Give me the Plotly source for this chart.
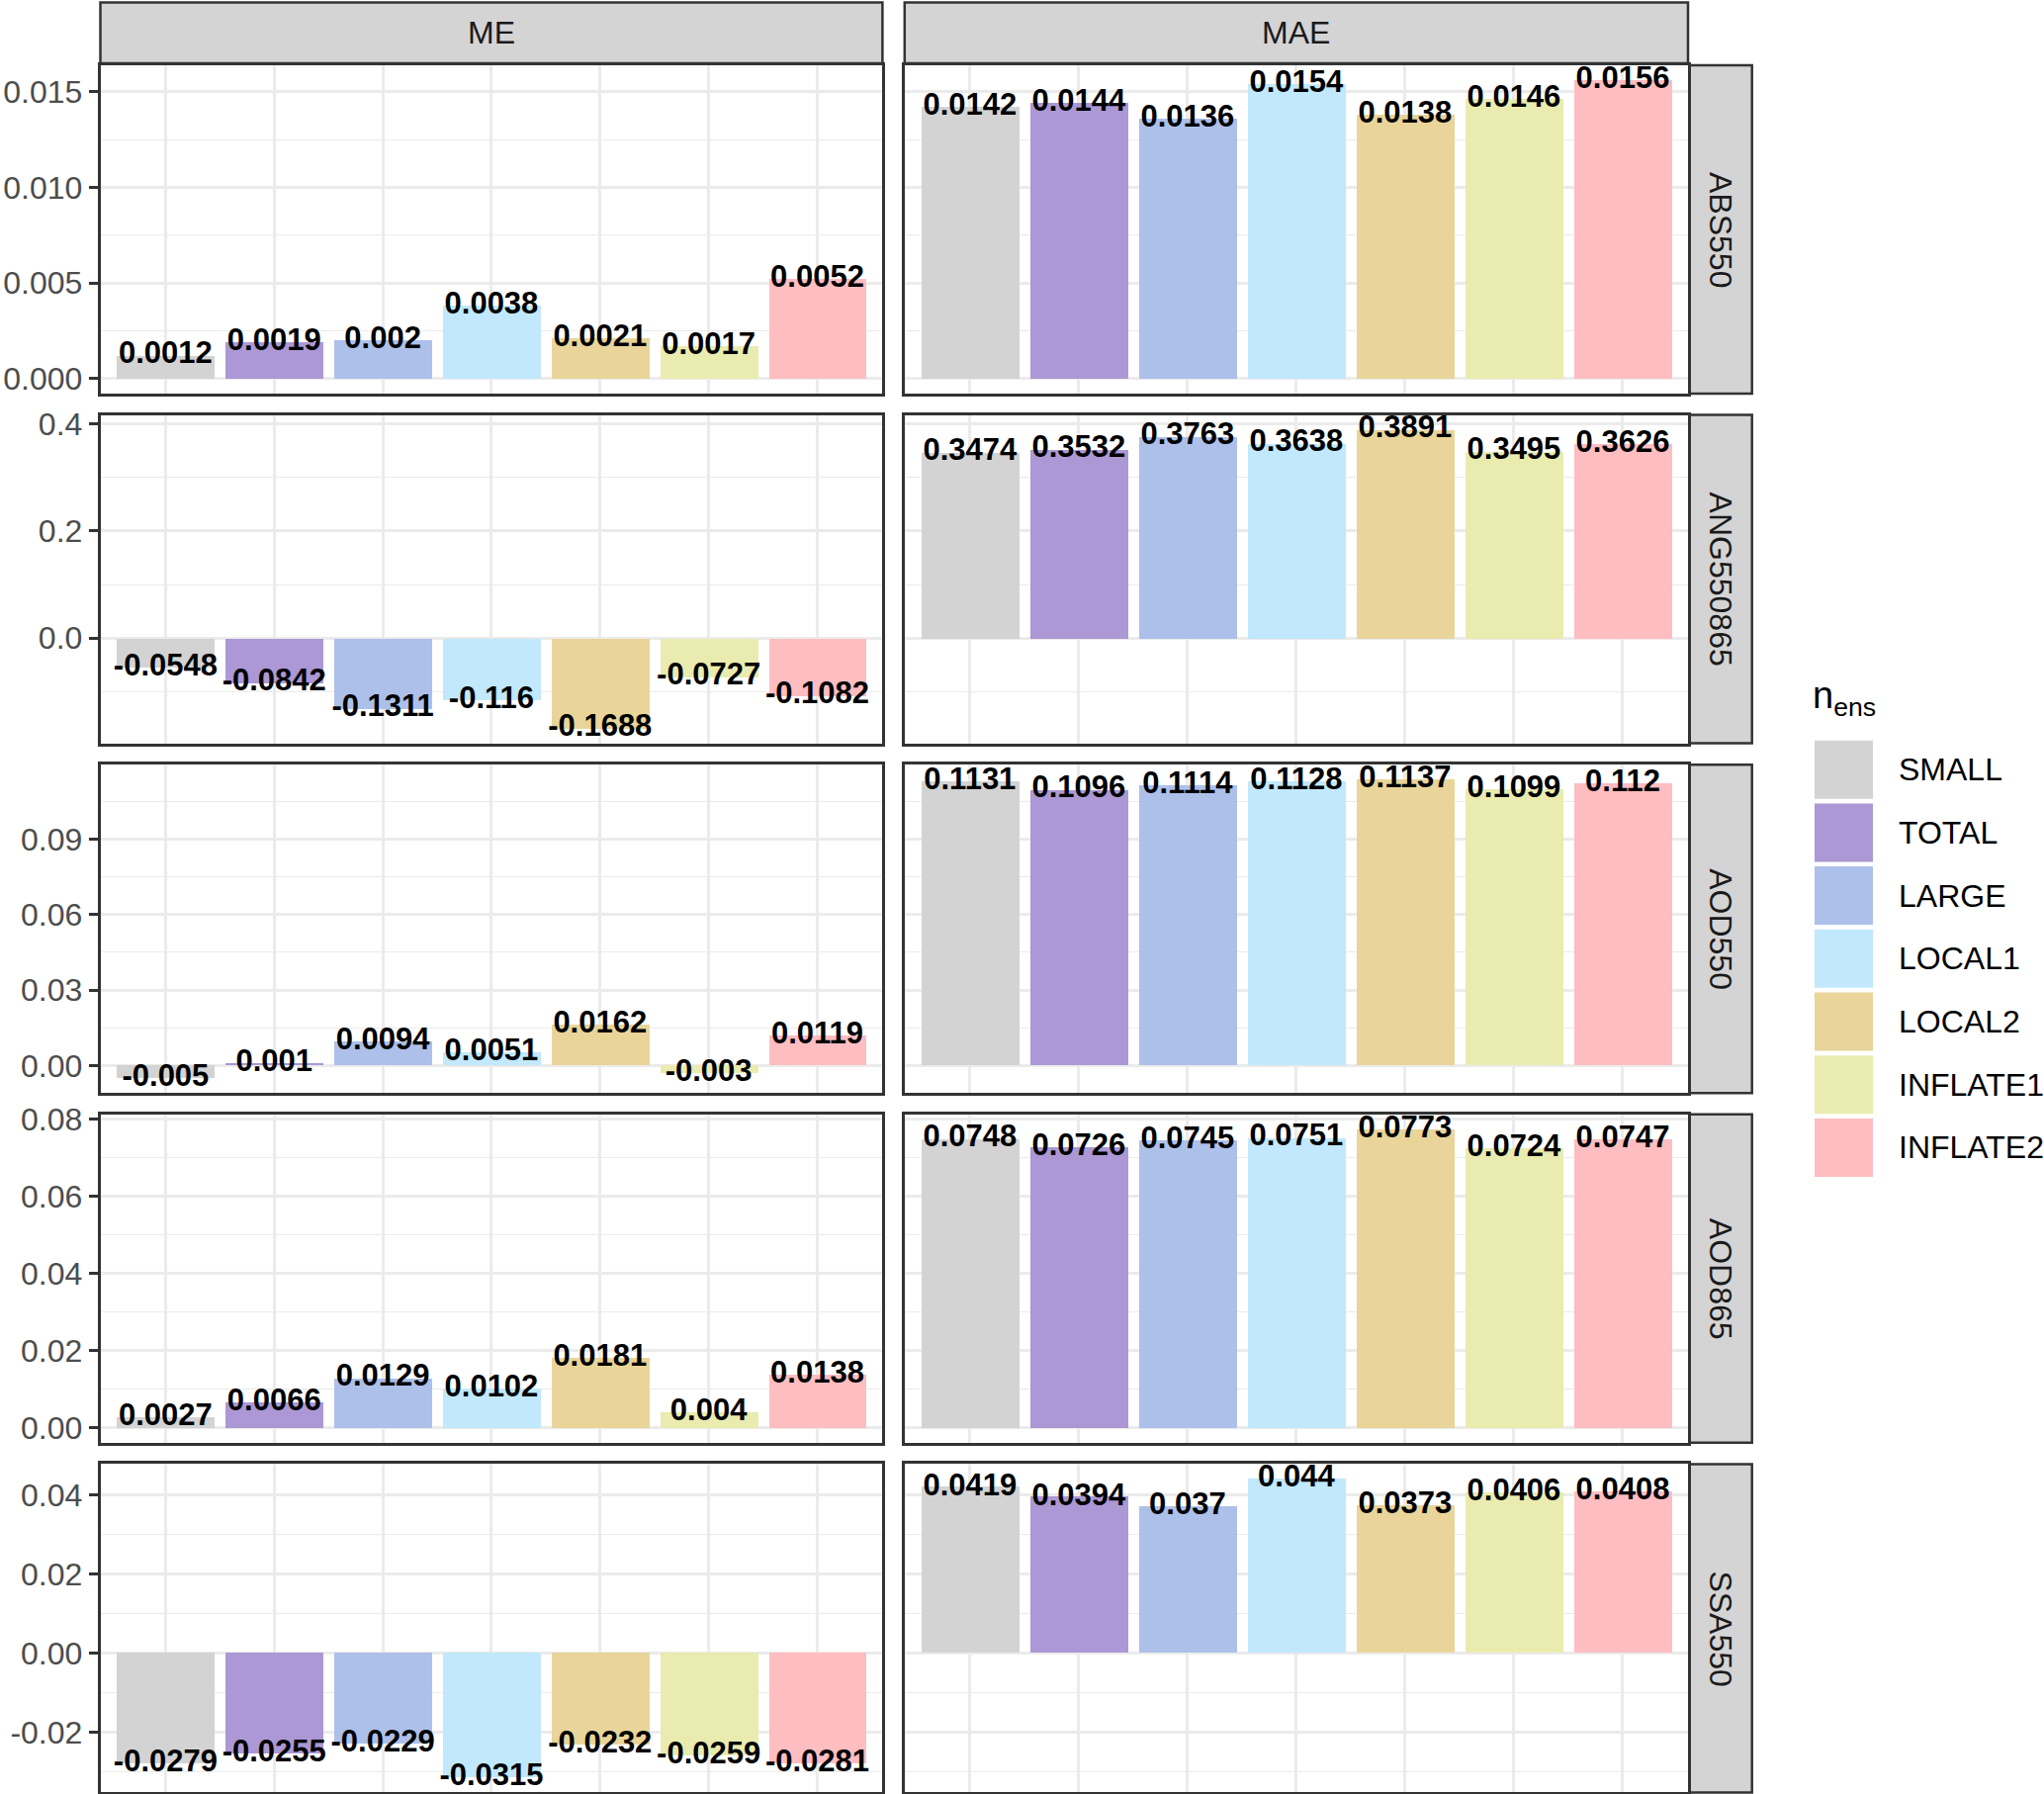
"""
Gráfica de barras en rejilla (ME / MAE por variable y tipo de ensamble).
"""

import plotly.graph_objects as go

ANCHO, ALTO = 2067, 1814

categorias = ["SMALL", "TOTAL", "LARGE", "LOCAL1", "LOCAL2", "INFLATE1", "INFLATE2"]
colores = ["#D3D3D3", "#AB98D4", "#ADC0EA", "#C1E8FC", "#E9D59A", "#EAEBAF", "#FEBDC0"]

variables = ["ABS550", "ANG550865", "AOD550", "AOD865", "SSA550"]
metricas = ["ME", "MAE"]

me_abs550 = [0.0012, 0.0019, 0.002, 0.0038, 0.0021, 0.0017, 0.0052]
mae_abs550 = [0.0142, 0.0144, 0.0136, 0.0154, 0.0138, 0.0146, 0.0156]

me_ang550865 = [-0.0548, -0.0842, -0.1311, -0.116, -0.1688, -0.0727, -0.1082]
mae_ang550865 = [0.3474, 0.3532, 0.3763, 0.3638, 0.3891, 0.3495, 0.3626]

me_aod550 = [-0.005, 0.001, 0.0094, 0.0051, 0.0162, -0.003, 0.0119]
mae_aod550 = [0.1131, 0.1096, 0.1114, 0.1128, 0.1137, 0.1099, 0.112]

me_aod865 = [0.0027, 0.0066, 0.0129, 0.0102, 0.0181, 0.004, 0.0138]
mae_aod865 = [0.0748, 0.0726, 0.0745, 0.0751, 0.0773, 0.0724, 0.0747]

me_ssa550 = [-0.0279, -0.0255, -0.0229, -0.0315, -0.0232, -0.0259, -0.0281]
mae_ssa550 = [0.0419, 0.0394, 0.037, 0.044, 0.0373, 0.0406, 0.0408]

# Marcas del eje vertical por fila.
marcas_abs550 = [0.0, 0.005, 0.010, 0.015]
textos_abs550 = ["0.000", "0.005", "0.010", "0.015"]
marcas_ang550865 = [0.0, 0.2, 0.4]
textos_ang550865 = ["0.0", "0.2", "0.4"]
marcas_aod550 = [0.0, 0.03, 0.06, 0.09]
textos_aod550 = ["0.00", "0.03", "0.06", "0.09"]
marcas_aod865 = [0.0, 0.02, 0.04, 0.06, 0.08]
textos_aod865 = ["0.00", "0.02", "0.04", "0.06", "0.08"]
marcas_ssa550 = [-0.02, 0.0, 0.02, 0.04]
textos_ssa550 = ["-0.02", "0.00", "0.02", "0.04"]

datos = [
    (me_abs550, mae_abs550, marcas_abs550, textos_abs550),
    (me_ang550865, mae_ang550865, marcas_ang550865, textos_ang550865),
    (me_aod550, mae_aod550, marcas_aod550, textos_aod550),
    (me_aod865, mae_aod865, marcas_aod865, textos_aod865),
    (me_ssa550, mae_ssa550, marcas_ssa550, textos_ssa550),
]

FUENTE = "Liberation Sans"
BORDE = "#333333"
REJILLA = "#EBEBEB"
TIRA = "#D4D4D4"

# Posiciones de los paneles en pixeles.
cols_px = [(101.5, 892.4), (914.8, 1707.0)]
fila_top, fila_alto, fila_paso = 66.0, 332.0, 353.6
tira_sup = (2.6, 64.0)
tira_der = (1708.3, 1771.7)


def px_x(v):
    return v / ANCHO


def px_y(v):
    return 1 - v / ALTO


fig = go.Figure()
shapes = []
annotations = []

for r, (me, mae, marcas, textos) in enumerate(datos):
    todos = me + mae + [0]
    lo, hi = min(todos), max(todos)
    extra = (hi - lo) * 0.05
    rango = [lo - extra, hi + extra]

    paso = marcas[1] - marcas[0]
    menores = [m + paso / 2 for m in [marcas[0] - paso] + marcas]

    top = fila_top + r * fila_paso
    bottom = top + fila_alto
    dom_y = [px_y(bottom), px_y(top)]

    for c, valores in enumerate([me, mae]):
        k = r * 2 + c + 1
        sufijo = "" if k == 1 else str(k)

        fig.add_trace(
            go.Bar(
                x=categorias,
                y=valores,
                width=0.9,
                marker_color=colores,
                marker_line_width=0,
                showlegend=False,
                hoverinfo="x+y",
                xaxis=f"x{sufijo}",
                yaxis=f"y{sufijo}",
            )
        )

        fig.add_trace(
            go.Scatter(
                x=categorias,
                y=valores,
                mode="text",
                text=[str(v) for v in valores],
                textposition="middle center",
                textfont=dict(family=FUENTE, size=31, color="#000000", weight="bold"),
                showlegend=False,
                hoverinfo="skip",
                xaxis=f"x{sufijo}",
                yaxis=f"y{sufijo}",
            )
        )

        x0, x1 = cols_px[c]
        fig.update_layout({
            f"xaxis{sufijo}": dict(
                domain=[px_x(x0), px_x(x1)],
                anchor=f"y{sufijo}",
                type="category",
                categoryorder="array",
                categoryarray=categorias,
                range=[-0.6, 6.6],
                showticklabels=False,
                ticks="",
                showgrid=True,
                gridcolor=REJILLA,
                gridwidth=2.8,
                zeroline=False,
                showline=True,
                mirror=True,
                linecolor=BORDE,
                linewidth=2.5,
                fixedrange=True,
            ),
            f"yaxis{sufijo}": dict(
                domain=dom_y,
                anchor=f"x{sufijo}",
                range=rango,
                tickmode="array",
                tickvals=marcas,
                ticktext=textos,
                showticklabels=(c == 0),
                ticks="outside" if c == 0 else "",
                ticklen=9,
                tickwidth=2.5,
                tickcolor=BORDE,
                tickfont=dict(family=FUENTE, size=32, color="#4D4D4D"),
                showgrid=True,
                gridcolor=REJILLA,
                gridwidth=2.8,
                minor=dict(
                    tickmode="array",
                    tickvals=menores,
                    showgrid=True,
                    gridcolor=REJILLA,
                    gridwidth=1.4,
                    ticks="",
                ),
                zeroline=False,
                showline=True,
                mirror=True,
                linecolor=BORDE,
                linewidth=2.5,
                automargin=False,
                fixedrange=True,
            ),
        })

    # Tira lateral con el nombre de la variable.
    shapes.append(dict(
        type="rect", xref="paper", yref="paper",
        x0=px_x(tira_der[0]), x1=px_x(tira_der[1]),
        y0=px_y(bottom), y1=px_y(top),
        fillcolor=TIRA, line=dict(color=BORDE, width=2.5), layer="below",
    ))
    annotations.append(dict(
        xref="paper", yref="paper",
        x=px_x((tira_der[0] + tira_der[1]) / 2), y=px_y((top + bottom) / 2),
        text=variables[r], textangle=90, showarrow=False,
        font=dict(family=FUENTE, size=32, color="#1A1A1A"),
        xanchor="center", yanchor="middle",
    ))

# Tiras superiores (ME / MAE).
for c, nombre in enumerate(metricas):
    x0, x1 = cols_px[c]
    shapes.append(dict(
        type="rect", xref="paper", yref="paper",
        x0=px_x(x0), x1=px_x(x1),
        y0=px_y(tira_sup[1]), y1=px_y(tira_sup[0]),
        fillcolor=TIRA, line=dict(color=BORDE, width=2.5), layer="below",
    ))
    annotations.append(dict(
        xref="paper", yref="paper",
        x=px_x((x0 + x1) / 2), y=px_y(sum(tira_sup) / 2),
        text=nombre, showarrow=False,
        font=dict(family=FUENTE, size=32, color="#1A1A1A"),
        xanchor="center", yanchor="middle",
    ))

# Leyenda dibujada a mano para imitar las cajas grandes de ggplot.
ley_x0, ley_lado, ley_top, ley_paso = 1835.0, 59.0, 748.7, 63.7
annotations.append(dict(
    xref="paper", yref="paper",
    x=px_x(ley_x0 - 4), y=px_y(706),
    text="n<sub>ens</sub>", showarrow=False,
    font=dict(family=FUENTE, size=38, color="#000000"),
    xanchor="left", yanchor="middle",
))
for i, (cat, col) in enumerate(zip(categorias, colores)):
    y0 = ley_top + i * ley_paso
    shapes.append(dict(
        type="rect", xref="paper", yref="paper",
        x0=px_x(ley_x0), x1=px_x(ley_x0 + ley_lado),
        y0=px_y(y0 + ley_lado), y1=px_y(y0),
        fillcolor=col, line=dict(width=0),
    ))
    annotations.append(dict(
        xref="paper", yref="paper",
        x=px_x(1918), y=px_y(y0 + ley_lado / 2),
        text=cat, showarrow=False,
        font=dict(family=FUENTE, size=32, color="#000000"),
        xanchor="left", yanchor="middle",
    ))

fig.update_layout(
    width=ANCHO,
    height=ALTO,
    autosize=False,
    margin=dict(l=0, r=0, t=0, b=0, pad=0),
    plot_bgcolor="#FFFFFF",
    paper_bgcolor="#FFFFFF",
    showlegend=False,
    bargap=0,
    shapes=shapes,
    annotations=annotations,
    font=dict(family=FUENTE),
)

fig.write_html(
    "out.html",
    config={"displayModeBar": False},
    post_script="document.body.style.margin='0';",
)
